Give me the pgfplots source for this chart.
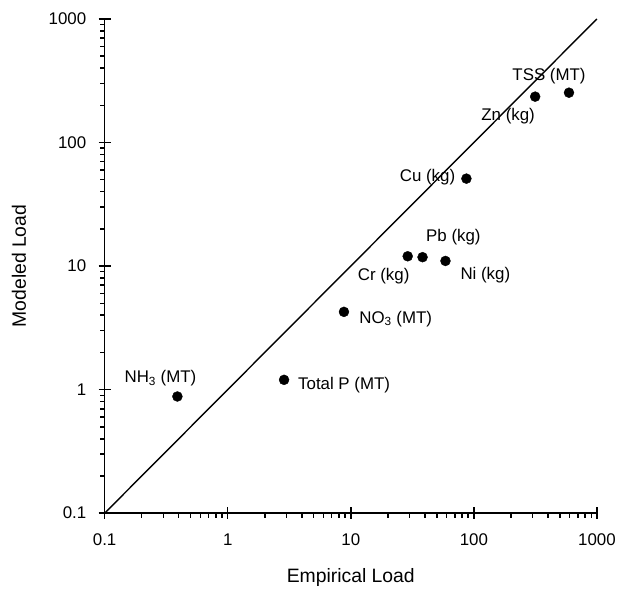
\documentclass[border=0pt]{standalone}
\usepackage{pgfplots}
\pgfplotsset{compat=1.18}
\usepackage{fontspec}
\setmainfont{Liberation Sans}

\begin{document}
\begin{tikzpicture}[every node/.style={font=\fontsize{17}{20}\selectfont}]
  \begin{loglogaxis}[
    scale only axis,
    width=494bp,
    height=496bp,
    xmin=0.1, xmax=1000,
    ymin=0.1, ymax=1000,
    axis lines=left,
    axis line style={-, line width=1.5bp},
    xtick={0.1,1,10,100,1000},
    xticklabels={0.1,1,10,100,1000},
    ytick={0.1,1,10,100,1000},
    yticklabels={0.1,1,10,100,1000},
    tick label style={font=\fontsize{17}{20}\selectfont},
    xticklabel style={yshift=-5bp},
    yticklabel style={xshift=-3bp},
    tick align=outside,
    major tick length=12bp,
    minor tick length=4.5bp,
    tick style={black, line width=1.5bp},
    every major x tick/.append style={yshift=6.5bp},
    every major y tick/.append style={xshift=6bp},
    xlabel={Empirical Load},
    ylabel={Modeled Load},
    label style={font=\fontsize{19.5}{23}\selectfont},
    xlabel style={at={(axis description cs:0.5,-0.131)}, anchor=center},
    ylabel style={at={(axis description cs:-0.174,0.5)}, anchor=center},
    clip=false
  ]
    % 1:1 line
    \addplot [black, line width=1.4bp] coordinates {(0.1,0.1) (1000,1000)};

    \addplot [only marks, mark=*, mark size=5bp, black] coordinates {
      (0.39, 0.88)
      (2.87, 1.2)
      (8.8, 4.26)
      (29, 12)
      (38.3, 11.8)
      (58.8, 11.0)
      (87, 51)
      (315, 235)
      (593, 253)
    };

    \node at (axis cs:0.284,1.23) {NH\textsubscript{3} (MT)};
    \node[anchor=west] at (axis cs:3.5,1.08) {Total P (MT)};
    \node[anchor=west] at (axis cs:11,3.74) {NO\textsubscript{3} (MT)};
    \node at (axis cs:18.5,8.3) {Cr (kg)};
    \node at (axis cs:68.2,17.1) {Pb (kg)};
    \node at (axis cs:124,8.46) {Ni (kg)};
    \node at (axis cs:42,52.2) {Cu (kg)};
    \node at (axis cs:190,162) {Zn (kg)};
    \node at (axis cs:408,347) {TSS (MT)};

    \path (rel axis cs:-0.2126,-0.1472) rectangle (rel axis cs:1.0405,1.0383);
  \end{loglogaxis}
\end{tikzpicture}
\end{document}
